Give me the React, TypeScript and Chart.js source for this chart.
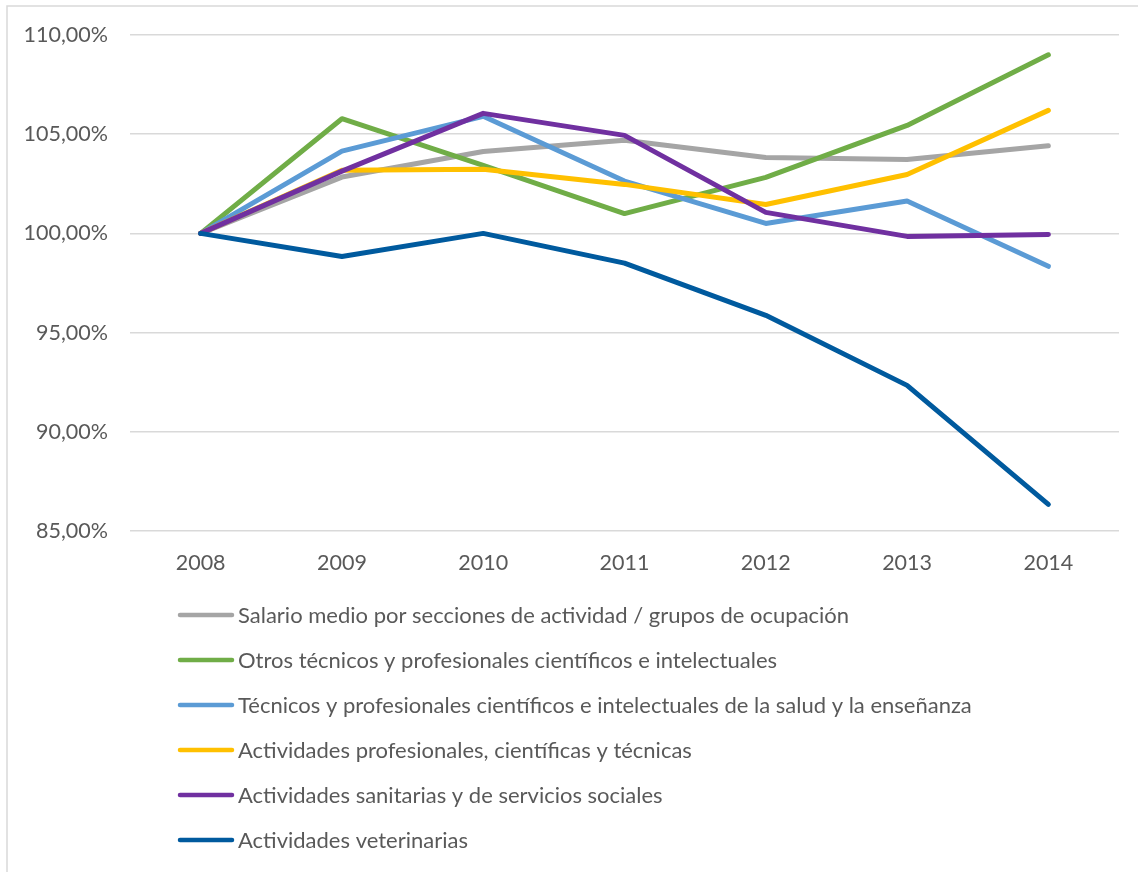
import React, { useEffect, useRef } from "react";
import { Chart, registerables } from "chart.js";

Chart.register(...registerables);

const years = ["2008", "2009", "2010", "2011", "2012", "2013", "2014"];

const salarioMedio = [100, 102.84, 104.13, 104.69, 103.83, 103.73, 104.42];
const otrosTecnicos = [100, 105.78, 103.43, 101.0, 102.82, 105.44, 109.0];
const tecnicosSalud = [100, 104.15, 105.9, 102.64, 100.5, 101.63, 98.34];
const actProfesionales = [100, 103.18, 103.23, 102.47, 101.46, 102.97, 106.2];
const actSanitarias = [100, 103.14, 106.05, 104.94, 101.06, 99.85, 99.95];
const actVeterinarias = [100, 98.84, 100.0, 98.5, 95.87, 92.34, 86.34];

const seriesNames = [
  "Salario medio por secciones de actividad / grupos de ocupación",
  "Otros técnicos y profesionales científicos e intelectuales",
  "Técnicos y profesionales científicos e intelectuales de la salud y la enseñanza",
  "Actividades profesionales, científicas y técnicas",
  "Actividades sanitarias y de servicios sociales",
  "Actividades veterinarias",
];
const seriesValues = [salarioMedio, otrosTecnicos, tecnicosSalud, actProfesionales, actSanitarias, actVeterinarias];
const seriesColors = ["#A5A5A5", "#70AD47", "#5B9BD5", "#FFC000", "#7030A0", "#005A9E"];

const yTicks = [85, 90, 95, 100, 105, 110];

const FONT = "Lato, 'Open Sans', sans-serif";
const TEXT_COLOR = "#595959";

const legendAndFrame = {
  id: "legendAndFrame",
  beforeDraw(chart: any) {
    const ctx = chart.ctx;
    ctx.save();
    ctx.fillStyle = "#ffffff";
    ctx.fillRect(0, 0, chart.width, chart.height);
    ctx.strokeStyle = "#d9d9d9";
    ctx.lineWidth = 1.5;
    ctx.beginPath();
    ctx.moveTo(7, chart.height);
    ctx.lineTo(7, 6);
    ctx.lineTo(chart.width, 6);
    ctx.stroke();
    ctx.restore();
  },
  afterDraw(chart: any) {
    const ctx = chart.ctx;
    ctx.save();
    chart.data.datasets.forEach((ds: any, i: number) => {
      const y = 615 + 45 * i;
      ctx.strokeStyle = ds.borderColor;
      ctx.lineWidth = 4.5;
      ctx.lineCap = "round";
      ctx.beginPath();
      ctx.moveTo(180, y);
      ctx.lineTo(232, y);
      ctx.stroke();
      ctx.fillStyle = TEXT_COLOR;
      ctx.font = `22px ${FONT}`;
      ctx.textBaseline = "middle";
      ctx.textAlign = "left";
      ctx.fillText(ds.label, 238, y + 1);
    });
    ctx.restore();
  },
};

export default function App() {
  const ref = useRef<HTMLCanvasElement>(null);
  useEffect(() => {
    if (!ref.current) return;
    const chart = new Chart(ref.current, {
      type: "line",
      data: {
        labels: years,
        datasets: seriesValues.map((vals, i) => ({
          label: seriesNames[i],
          data: vals,
          borderColor: seriesColors[i],
          backgroundColor: seriesColors[i],
          borderWidth: 5,
          borderCapStyle: "round" as const,
          borderJoinStyle: "round" as const,
          pointRadius: 0,
          tension: 0,
          fill: false,
          order: seriesValues.length - 1 - i,
        })),
      },
      options: {
        responsive: false,
        animation: false,
        layout: { padding: { top: 35, right: 19, left: 0, bottom: 0 } },
        plugins: { legend: { display: false }, tooltip: { enabled: false } },
        scales: {
          x: {
            offset: true,
            grid: { display: false },
            border: { display: false },
            ticks: { color: TEXT_COLOR, font: { family: FONT, size: 21.5 }, padding: 11 },
            afterFit(s: any) {
              s.height = 341;
            },
          },
          y: {
            min: 85,
            max: 110,
            afterBuildTicks(s: any) {
              s.ticks = yTicks.map((v) => ({ value: v }));
            },
            grid: { color: "#d9d9d9", lineWidth: 1.5, drawTicks: false },
            border: { display: false },
            ticks: {
              color: TEXT_COLOR,
              font: { family: FONT, size: 21.5 },
              padding: 22,
              callback: (v: any) => Number(v).toFixed(2).replace(".", ",") + "%",
            },
            afterFit(s: any) {
              s.width = 130;
            },
          },
        },
      },
      plugins: [legendAndFrame],
    });
    return () => chart.destroy();
  }, []);
  return (
    <div style={{ position: "absolute", left: 0, top: 0, width: 1138, height: 872 }}>
      <canvas ref={ref} width={1138} height={872} style={{ width: 1138, height: 872 }} />
    </div>
  );
}
